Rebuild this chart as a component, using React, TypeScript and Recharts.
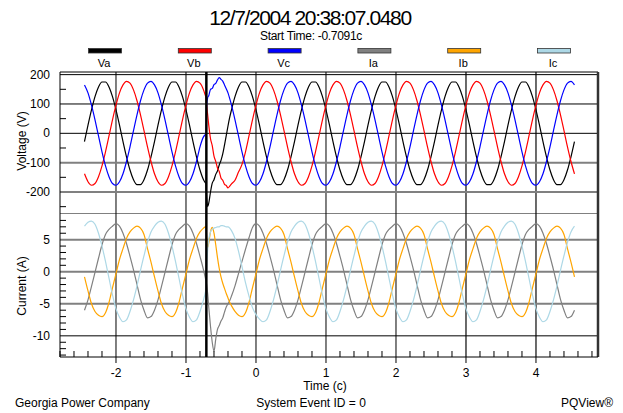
import React from "react";
import { LineChart, Line, XAxis, YAxis, ReferenceLine } from "recharts";

const FONT = '"Liberation Sans", Arial, sans-serif';

// time in cycles
const time = [
  -2.45, -2.4, -2.35, -2.3, -2.25, -2.2, -2.15, -2.1, -2.05, -2, -1.95, -1.9, -1.85, -1.8, -1.75, -1.7, -1.65, -1.6, -1.55, -1.5,
  -1.45, -1.4, -1.35, -1.3, -1.25, -1.2, -1.15, -1.1, -1.05, -1, -0.95, -0.9, -0.85, -0.8,
  -0.75, -0.725, -0.715, -0.705, -0.69, -0.675, -0.65, -0.625, -0.6, -0.575, -0.55, -0.525, -0.5, -0.475, -0.45, -0.425, -0.4, -0.375, -0.35,
  -0.3, -0.25, -0.2, -0.15, -0.1, -0.05,
  0, 0.05, 0.1, 0.15, 0.2, 0.25, 0.3, 0.35, 0.4, 0.45, 0.5, 0.55, 0.6, 0.65, 0.7, 0.75, 0.8, 0.85, 0.9, 0.95,
  1, 1.05, 1.1, 1.15, 1.2, 1.25, 1.3, 1.35, 1.4, 1.45, 1.5, 1.55, 1.6, 1.65, 1.7, 1.75, 1.8, 1.85, 1.9, 1.95,
  2, 2.05, 2.1, 2.15, 2.2, 2.25, 2.3, 2.35, 2.4, 2.45, 2.5, 2.55, 2.6, 2.65, 2.7, 2.75, 2.8, 2.85, 2.9, 2.95,
  3, 3.05, 3.1, 3.15, 3.2, 3.25, 3.3, 3.35, 3.4, 3.45, 3.5, 3.55, 3.6, 3.65, 3.7, 3.75, 3.8, 3.85, 3.9, 3.95,
  4, 4.05, 4.1, 4.15, 4.2, 4.25, 4.3, 4.35, 4.4, 4.45, 4.5, 4.55,
];

const va = [
  -28, 28, 80, 125, 158, 175, 175, 158, 125, 80, 28, -28, -80, -125, -158, -175, -175, -158, -125, -80,
  -28, 28, 80, 125, 158, 175, 175, 158, 125, 80, 28, -28, -80, -125,
  -158, -168, -171, -216, -250, -238, -200, -170, -158, -140, -128, -108, -92, -70, -40, -8, 25, 55, 80,
  125, 158, 175, 175, 158, 125,
  80, 28, -28, -80, -125, -158, -175, -175, -158, -125, -80, -28, 28, 80, 125, 158, 175, 175, 158, 125,
  80, 28, -28, -80, -125, -158, -175, -175, -158, -125, -80, -28, 28, 80, 125, 158, 175, 175, 158, 125,
  80, 28, -28, -80, -125, -158, -175, -175, -158, -125, -80, -28, 28, 80, 125, 158, 175, 175, 158, 125,
  80, 28, -28, -80, -125, -158, -175, -175, -158, -125, -80, -28, 28, 80, 125, 158, 175, 175, 158, 125,
  80, 28, -28, -80, -125, -158, -175, -175, -158, -125, -80, -28,
];

const vb = [
  -138, -165, -177, -171, -148, -111, -63, -9, 46, 96, 138, 165, 177, 171, 148, 111, 63, 9, -46, -96,
  -138, -165, -177, -171, -148, -111, -63, -9, 46, 96, 138, 165, 177, 171,
  148, 130, 122, 96, 62, 28, -18, -42, -78, -96, -118, -130, -152, -160, -174, -178, -186, -180, -172,
  -160, -132, -106, -63, -9, 46,
  96, 138, 165, 177, 171, 148, 111, 63, 9, -46, -96, -138, -165, -177, -171, -148, -111, -63, -9, 46,
  96, 138, 165, 177, 171, 148, 111, 63, 9, -46, -96, -138, -165, -177, -171, -148, -111, -63, -9, 46,
  96, 138, 165, 177, 171, 148, 111, 63, 9, -46, -96, -138, -165, -177, -171, -148, -111, -63, -9, 46,
  96, 138, 165, 177, 171, 148, 111, 63, 9, -46, -96, -138, -165, -177, -171, -148, -111, -63, -9, 46,
  96, 138, 165, 177, 171, 148, 111, 63, 9, -46, -96, -138,
];

const vc = [
  165, 138, 96, 46, -9, -63, -111, -148, -171, -177, -165, -138, -96, -46, 9, 63, 111, 148, 171, 177,
  165, 138, 96, 46, -9, -63, -111, -148, -171, -177, -165, -138, -96, -46,
  -12, -4, 0, 95, 122, 128, 150, 153, 166, 170, 182, 190, 184, 178, 165, 152, 138, 118, 96,
  46, -9, -63, -111, -148, -171,
  -177, -165, -138, -96, -46, 9, 63, 111, 148, 171, 177, 165, 138, 96, 46, -9, -63, -111, -148, -171,
  -177, -165, -138, -96, -46, 9, 63, 111, 148, 171, 177, 165, 138, 96, 46, -9, -63, -111, -148, -171,
  -177, -165, -138, -96, -46, 9, 63, 111, 148, 171, 177, 165, 138, 96, 46, -9, -63, -111, -148, -171,
  -177, -165, -138, -96, -46, 9, 63, 111, 148, 171, 177, 165, 138, 96, 46, -9, -63, -111, -148, -171,
  -177, -165, -138, -96, -46, 9, 63, 111, 148, 171, 177, 165,
];

const ia = [
  -6.0, -4.4, -2.3, -0.1, 2.1, 4.2, 5.8, 6.6, 7.1, 7.5, 7.1, 6.0, 4.4, 2.4, 0.3, -2.0, -4.3, -6.0, -7.2, -7.0,
  -6.0, -4.4, -2.3, -0.1, 2.1, 4.2, 5.8, 6.6, 7.1, 7.5, 7.1, 6.0, 4.4, 2.4,
  0.3, -0.9, -1.4, -2.0, -3.5, -5.5, -8.5, -11.0, -12.4, -10.5, -9.0, -8.4, -7.7, -7.2, -6.3, -5.5, -5.0, -4.5, -3.8,
  -2.2, -0.3, 1.6, 3.5, 5.3, 6.9,
  7.5, 7.1, 6.0, 4.4, 2.4, 0.3, -2.0, -4.3, -6.0, -7.2, -7.0, -6.0, -4.4, -2.3, -0.1, 2.1, 4.2, 5.8, 6.6, 7.1,
  7.5, 7.1, 6.0, 4.4, 2.4, 0.3, -2.0, -4.3, -6.0, -7.2, -7.0, -6.0, -4.4, -2.3, -0.1, 2.1, 4.2, 5.8, 6.6, 7.1,
  7.5, 7.1, 6.0, 4.4, 2.4, 0.3, -2.0, -4.3, -6.0, -7.2, -7.0, -6.0, -4.4, -2.3, -0.1, 2.1, 4.2, 5.8, 6.6, 7.1,
  7.5, 7.1, 6.0, 4.4, 2.4, 0.3, -2.0, -4.3, -6.0, -7.2, -7.0, -6.0, -4.4, -2.3, -0.1, 2.1, 4.2, 5.8, 6.6, 7.1,
  7.5, 7.1, 6.0, 4.4, 2.4, 0.3, -2.0, -4.3, -6.0, -7.2, -7.0, -6.0,
];

const ib = [
  -0.8, -3.0, -5.0, -6.2, -6.8, -7.0, -6.4, -4.8, -2.5, -0.3, 1.9, 3.6, 5.2, 6.2, 6.8, 7.1, 6.8, 5.8, 3.6, 1.5,
  -0.8, -3.0, -5.0, -6.2, -6.8, -7.0, -6.4, -4.8, -2.5, -0.3, 1.9, 3.6, 5.2, 6.2,
  6.8, 7.0, 7.1, 5.5, 3.8, 4.5, 6.2, 6.9, 6.0, 4.2, 2.2, 0.5, -0.8, -1.8, -2.6, -3.4, -4.1, -4.8, -5.3,
  -6.2, -6.8, -7.0, -6.4, -4.8, -2.5,
  -0.3, 1.9, 3.6, 5.2, 6.2, 6.8, 7.1, 6.8, 5.8, 3.6, 1.5, -0.8, -3.0, -5.0, -6.2, -6.8, -7.0, -6.4, -4.8, -2.5,
  -0.3, 1.9, 3.6, 5.2, 6.2, 6.8, 7.1, 6.8, 5.8, 3.6, 1.5, -0.8, -3.0, -5.0, -6.2, -6.8, -7.0, -6.4, -4.8, -2.5,
  -0.3, 1.9, 3.6, 5.2, 6.2, 6.8, 7.1, 6.8, 5.8, 3.6, 1.5, -0.8, -3.0, -5.0, -6.2, -6.8, -7.0, -6.4, -4.8, -2.5,
  -0.3, 1.9, 3.6, 5.2, 6.2, 6.8, 7.1, 6.8, 5.8, 3.6, 1.5, -0.8, -3.0, -5.0, -6.2, -6.8, -7.0, -6.4, -4.8, -2.5,
  -0.3, 1.9, 3.6, 5.2, 6.2, 6.8, 7.1, 6.8, 5.8, 3.6, 1.5, -0.8,
];

const ic = [
  7.1, 7.7, 7.9, 7.4, 6.0, 4.0, 1.6, -1.0, -3.6, -5.8, -7.1, -7.8, -7.5, -6.2, -4.4, -2.2, 0.2, 2.5, 4.6, 6.2,
  7.1, 7.7, 7.9, 7.4, 6.0, 4.0, 1.6, -1.0, -3.6, -5.8, -7.1, -7.8, -7.5, -6.2,
  -4.4, -3.3, -2.7, 0.5, 3.5, 5.0, 6.2, 6.6, 6.8, 6.9, 7.0, 7.0, 7.2, 7.2, 7.1, 7.0, 7.0, 6.8, 6.4,
  5.2, 3.2, 0.8, -1.7, -3.8, -5.6,
  -6.7, -7.4, -7.8, -7.5, -6.2, -4.4, -2.2, 0.2, 2.5, 4.6, 6.2, 7.1, 7.7, 7.9, 7.4, 6.0, 4.0, 1.6, -1.0, -3.6,
  -5.8, -7.1, -7.8, -7.5, -6.2, -4.4, -2.2, 0.2, 2.5, 4.6, 6.2, 7.1, 7.7, 7.9, 7.4, 6.0, 4.0, 1.6, -1.0, -3.6,
  -5.8, -7.1, -7.8, -7.5, -6.2, -4.4, -2.2, 0.2, 2.5, 4.6, 6.2, 7.1, 7.7, 7.9, 7.4, 6.0, 4.0, 1.6, -1.0, -3.6,
  -5.8, -7.1, -7.8, -7.5, -6.2, -4.4, -2.2, 0.2, 2.5, 4.6, 6.2, 7.1, 7.7, 7.9, 7.4, 6.0, 4.0, 1.6, -1.0, -3.6,
  -5.8, -7.1, -7.8, -7.5, -6.2, -4.4, -2.2, 0.2, 2.5, 4.6, 6.2, 7.1,
];

const series = [
  { key: "va", name: "Va", color: "#000000", panel: "v" },
  { key: "vb", name: "Vb", color: "#FF0000", panel: "v" },
  { key: "vc", name: "Vc", color: "#0000FF", panel: "v" },
  { key: "ia", name: "Ia", color: "#808080", panel: "i" },
  { key: "ib", name: "Ib", color: "#FFA500", panel: "i" },
  { key: "ic", name: "Ic", color: "#ADD8E6", panel: "i" },
];

const voltTicks = [200, 150, 100, 50, 0, -50, -100, -150, -200, -250];
const voltLabels = [200, 100, 0, -100, -200];
const voltGrayLines = [-100, -200];
const currTicks = [8, 7, 6, 5, 4, 3, 2, 1, 0, -1, -2, -3, -4, -5, -6, -7, -8, -9, -10, -11, -12, -13];
const currLabels = [5, 0, -5, -10];
const currGrayLines = [5, 0, -5];
const timeTicks = [
  -2.8, -2.6, -2.4, -2.2, -2, -1.8, -1.6, -1.4, -1.2, -1, -0.8, -0.6, -0.4, -0.2, 0, 0.2, 0.4, 0.6, 0.8, 1,
  1.2, 1.4, 1.6, 1.8, 2, 2.2, 2.4, 2.6, 2.8, 3, 3.2, 3.4, 3.6, 3.8, 4, 4.2, 4.4, 4.6, 4.8,
];
const timeLabels = [-2, -1, 0, 1, 2, 3, 4];
const timeGrayLines = [3, 4];
const startTime = -0.7091;

const X_DOMAIN: [number, number] = [-2.8, 4.886];
const V_DOMAIN: [number, number] = [-275, 209];
const I_DOMAIN: [number, number] = [-13.3, 9];

const rows = time.map((t, i) => ({ t, va: va[i], vb: vb[i], vc: vc[i], ia: ia[i], ib: ib[i], ic: ic[i] }));

function makeYTick(labels: number[]) {
  return (props: any) => {
    const { x, y, payload } = props;
    const v = payload.value;
    if (labels.includes(v)) {
      return (
        <text x={x - 10} y={y + 4} textAnchor="end" fontSize={12} fill="#000">
          {v}
        </text>
      );
    }
    return <line x1={x} x2={x + 6} y1={y} y2={y} stroke="#000" strokeWidth={1} />;
  };
}

function TimeTick(props: any) {
  const { x, y, payload } = props;
  const v = Math.round(payload.value * 10) / 10;
  if (timeLabels.includes(v)) {
    return (
      <g>
        <line x1={x} x2={x} y1={y} y2={y + 6} stroke="#000" />
        <text x={x} y={y + 20} textAnchor="middle" fontSize={12} fill="#000">
          {v}
        </text>
      </g>
    );
  }
  return <line x1={x} x2={x} y1={y} y2={y - 6} stroke="#000" />;
}

function gridX() {
  return timeLabels.map((v) => (
    <ReferenceLine
      key={"gx" + v}
      x={v}
      stroke={timeGrayLines.includes(v) ? "#5a5a5a" : "#000"}
      strokeWidth={timeGrayLines.includes(v) ? 1.8 : 1}
    />
  ));
}

export default function App() {
  return (
    <div
      style={{
        position: "absolute",
        left: 0,
        top: 0,
        width: 623,
        height: 413,
        background: "#fff",
        fontFamily: FONT,
      }}
    >
      <div style={{ position: "absolute", left: 0, top: 0 }}>
        <LineChart width={623} height={214} data={rows} margin={{ top: 72, right: 25, bottom: 0, left: 0 }}>
          <XAxis type="number" dataKey="t" domain={X_DOMAIN} allowDataOverflow hide />
          <YAxis
            type="number"
            domain={V_DOMAIN}
            allowDataOverflow
            ticks={voltTicks}
            interval={0}
            tick={makeYTick(voltLabels)}
            tickLine={false}
            tickSize={0}
            tickMargin={0}
            axisLine={{ stroke: "#000" }}
            width={60}
          />
          {gridX()}
          {voltLabels.map((v) => (
            <ReferenceLine
              key={"gy" + v}
              y={v}
              stroke={voltGrayLines.includes(v) ? "#808080" : "#000"}
              strokeWidth={voltGrayLines.includes(v) ? 2 : 1}
            />
          ))}
          <ReferenceLine y={V_DOMAIN[1]} stroke="#000" />
          <ReferenceLine y={V_DOMAIN[0]} stroke="#000" />
          <ReferenceLine x={X_DOMAIN[1]} stroke="#333" strokeWidth={2.5} />
          {series
            .filter((s) => s.panel === "v")
            .map((s) => (
              <Line
                key={s.key}
                type="monotone"
                dataKey={s.key}
                stroke={s.color}
                strokeWidth={1.2}
                dot={false}
                isAnimationActive={false}
              />
            ))}
          <ReferenceLine x={startTime} stroke="#000" strokeWidth={2.5} />
        </LineChart>
      </div>
      <div style={{ position: "absolute", left: 0, top: 214 }}>
        <LineChart width={623} height={199} data={rows} margin={{ top: 0, right: 25, bottom: 36, left: 0 }}>
          <XAxis
            type="number"
            dataKey="t"
            domain={X_DOMAIN}
            allowDataOverflow
            ticks={timeTicks}
            interval={0}
            tick={TimeTick}
            tickLine={false}
            tickSize={0}
            tickMargin={0}
            axisLine={{ stroke: "#000" }}
            height={20}
          />
          <YAxis
            type="number"
            domain={I_DOMAIN}
            allowDataOverflow
            ticks={currTicks}
            interval={0}
            tick={makeYTick(currLabels)}
            tickLine={false}
            tickSize={0}
            tickMargin={0}
            axisLine={{ stroke: "#000" }}
            width={60}
          />
          {gridX()}
          {currLabels.map((v) => (
            <ReferenceLine
              key={"cy" + v}
              y={v}
              stroke={currGrayLines.includes(v) ? "#808080" : "#000"}
              strokeWidth={currGrayLines.includes(v) ? 2 : 1}
            />
          ))}
          <ReferenceLine x={X_DOMAIN[1]} stroke="#333" strokeWidth={2.5} />
          {series
            .filter((s) => s.panel === "i")
            .map((s) => (
              <Line
                key={s.key}
                type="monotone"
                dataKey={s.key}
                stroke={s.color}
                strokeWidth={1.2}
                dot={false}
                isAnimationActive={false}
              />
            ))}
          <ReferenceLine x={startTime} stroke="#000" strokeWidth={2.5} />
        </LineChart>
      </div>
      <svg
        width={623}
        height={413}
        style={{ position: "absolute", left: 0, top: 0, pointerEvents: "none" }}
      >
        <text x={310} y={25} textAnchor="middle" fontSize={21} letterSpacing={-1.4} fill="#000">
          12/7/2004 20:38:07.0480
        </text>
        <text x={311} y={40} textAnchor="middle" fontSize={12} letterSpacing={-0.3} fill="#000">
          Start Time: -0.7091c
        </text>
        {series.map((s, i) => {
          const cx = 105 + i * 89.8;
          return (
            <g key={s.key}>
              <rect x={cx - 16.5} y={48.5} width={33} height={4.5} fill={s.color} stroke="#333" strokeWidth={0.8} />
              <text x={cx - 1} y={67} textAnchor="middle" fontSize={11} fill="#000">
                {s.name}
              </text>
            </g>
          );
        })}
        <text transform="translate(26,141) rotate(-90)" textAnchor="middle" fontSize={12} fill="#000">
          Voltage (V)
        </text>
        <text transform="translate(26,286) rotate(-90)" textAnchor="middle" fontSize={12} fill="#000">
          Current (A)
        </text>
        <text x={325} y={390} textAnchor="middle" fontSize={12} fill="#000">
          Time (c)
        </text>
        <text x={15} y={407} fontSize={12} fill="#000">
          Georgia Power Company
        </text>
        <text x={311} y={407} textAnchor="middle" fontSize={12} fill="#000">
          System Event ID = 0
        </text>
        <text x={613} y={407} textAnchor="end" fontSize={12} fill="#000">
          PQView®
        </text>
      </svg>
    </div>
  );
}
